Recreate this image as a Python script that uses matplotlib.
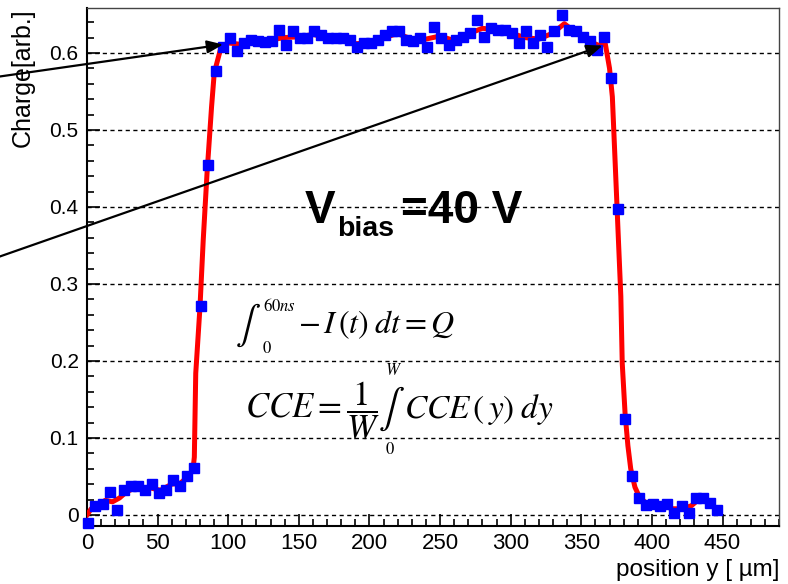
"""Charge collection scan across the sensor at V_bias = 40 V."""

import matplotlib
matplotlib.use("Agg")
import matplotlib.pyplot as plt
from matplotlib.ticker import MultipleLocator

plt.rcParams["font.family"] = ["Liberation Sans", "DejaVu Sans"]
plt.rcParams["mathtext.fontset"] = "stix"

# scan positions (um) and measured charge (arb.)
position = [
    1, 6, 11, 16, 21, 26, 31, 36, 41, 46, 51, 56, 61, 66, 71, 76, 81, 86,
    91, 96, 101, 106, 111, 116, 121, 126, 131, 136, 141, 146, 151, 156,
    161, 166, 171, 176, 181, 186, 191, 196, 201, 206, 211, 216, 221, 226,
    231, 236, 241, 246, 251, 256, 261, 266, 271, 276, 281, 286, 291, 296,
    301, 306, 311, 316, 321, 326, 331, 336, 341, 346, 351, 356, 361, 366,
    371, 376, 381, 386, 391, 396, 401, 406, 411, 416, 421, 426, 431, 436,
    441, 446,
]
charge = [
    -0.010, 0.011, 0.014, 0.030, 0.0065, 0.032, 0.037, 0.037, 0.033, 0.040,
    0.028, 0.033, 0.046, 0.037, 0.050, 0.0615, 0.271, 0.454, 0.577, 0.608,
    0.619, 0.602, 0.6125, 0.617, 0.615, 0.614, 0.616, 0.630, 0.610, 0.628,
    0.619, 0.620, 0.628, 0.623, 0.619, 0.619, 0.619, 0.617, 0.608, 0.6125,
    0.6125, 0.617, 0.623, 0.628, 0.628, 0.617, 0.616, 0.619, 0.608, 0.634,
    0.619, 0.610, 0.617, 0.621, 0.6255, 0.643, 0.621, 0.632, 0.630, 0.630,
    0.6255, 0.6125, 0.628, 0.6125, 0.623, 0.608, 0.628, 0.649, 0.630, 0.628,
    0.621, 0.615, 0.604, 0.621, 0.567, 0.397, 0.124, 0.050, 0.022, 0.013,
    0.014, 0.012, 0.014, 0.002, 0.011, 0.002, 0.022, 0.022, 0.015, 0.007,
]

# red smoothing curve
fit_pos = [
    0, 3, 8, 13, 18, 23, 28, 35, 45, 52, 60, 66, 71, 75, 76, 77, 80, 82.3,
    85, 88.2, 90.1, 94.4, 100, 110, 120, 130, 140, 150, 160, 170, 180, 190,
    200, 210, 220, 230, 240, 250, 260, 270, 280, 290, 300, 310, 320, 330,
    338, 345, 355, 362, 367, 370, 372, 374, 376, 378, 379, 381, 383, 385,
    388, 391, 396, 405, 415, 422, 428, 433, 440, 446,
]
fit_charge = [
    0.0, 0.008, 0.013, 0.019, 0.017, 0.022, 0.030, 0.036, 0.035, 0.032,
    0.040, 0.041, 0.049, 0.058, 0.075, 0.184, 0.270, 0.357, 0.444, 0.530,
    0.574, 0.604, 0.613, 0.611, 0.615, 0.617, 0.620, 0.621, 0.624, 0.620,
    0.618, 0.612, 0.613, 0.620, 0.625, 0.618, 0.618, 0.622, 0.616, 0.625,
    0.632, 0.630, 0.626, 0.620, 0.618, 0.626, 0.638, 0.628, 0.616, 0.610,
    0.612, 0.580, 0.543, 0.457, 0.370, 0.284, 0.197, 0.132, 0.090, 0.060,
    0.036, 0.024, 0.015, 0.013, 0.008, 0.008, 0.012, 0.020, 0.016, 0.008,
]

W, H = 788, 584
fig = plt.figure(figsize=(W / 100, H / 100), dpi=100)
ax = fig.add_axes([87 / W, 1 - 525.7 / H, 692 / W, 517.4 / H])

ax.plot(fit_pos, fit_charge, color="#ff0000", lw=3.6, zorder=3)
ax.plot(position, charge, ls="none", marker="s", ms=7.6, mfc="#0000ff",
        mec="#0000ff", zorder=4, clip_on=False)

ax.set_xlim(0, 490)
ax.set_ylim(-0.014, 0.658)
ax.xaxis.set_minor_locator(MultipleLocator(10))
ax.yaxis.set_minor_locator(MultipleLocator(0.02))
ax.set_xticks(range(0, 451, 50))
ax.set_xticklabels([str(v) for v in range(0, 451, 50)])
ax.set_yticks([0, 0.1, 0.2, 0.3, 0.4, 0.5, 0.6])
ax.set_yticklabels(["0", "0.1", "0.2", "0.3", "0.4", "0.5", "0.6"])

ax.tick_params(which="both", direction="in", top=False, right=False,
               color="black")
ax.tick_params(axis="y", which="major", length=9.5, width=1.2, pad=6,
               labelsize=15)
ax.tick_params(axis="y", which="minor", length=5, width=1.2)
ax.tick_params(axis="x", which="major", length=9, width=1.2, pad=5,
               labelsize=16)
ax.tick_params(axis="x", which="minor", length=5, width=1.2)

ax.yaxis.grid(True, which="major", color="black", lw=1, ls=(0, (3, 2.5)))
ax.set_axisbelow(True)
for side in ("left", "bottom"):
    ax.spines[side].set_linewidth(1.5)
for side in ("top", "right"):
    ax.spines[side].set_linewidth(1.0)
    ax.spines[side].set_color("#444444")

ax.set_ylabel("Charge[arb.]", fontsize=18, loc="top")
ax.yaxis.set_label_coords(-52 / 692, 1.0)
ax.set_xlabel("position y [ µm]", fontsize=17.5, loc="right")
ax.xaxis.set_label_coords(1.0, -33 / 517.4)

arrow = dict(arrowstyle="-|>,head_length=0.4,head_width=0.16",
             color="black", lw=1.6, mutation_scale=24, shrinkA=0, shrinkB=0)
ax.annotate("", xy=(96.4, 0.611), xytext=(-90, 0.562), arrowprops=arrow,
            annotation_clip=False, zorder=6)
ax.annotate("", xy=(365.1, 0.6095), xytext=(-90, 0.3175), arrowprops=arrow,
            annotation_clip=False, zorder=6)


def fig_text(px, py, s, ha="left", va="baseline", **kw):
    fig.text(px / W, 1 - py / H, s, ha=ha, va=va, **kw)


# V_bias label
fig_text(305, 223, "V", fontsize=33, fontweight="bold")
fig_text(337, 236, "bias", fontsize=20.5, fontweight="bold")
fig_text(401, 223, "=40 V", fontsize=33, fontweight="bold")

# charge integral
fig_text(248, 325, r"$\int$", fontsize=27, ha="center", va="center")
fig_text(263, 311, r"$60ns$", fontsize=12)
fig_text(262, 353, r"$0$", fontsize=12)
fig_text(298, 333, r"$-\,I\,(t)\;dt = Q$", fontsize=23)

# CCE definition
fig_text(245, 418, r"$CCE=\dfrac{1}{W}$", fontsize=25)
fig_text(391, 409, r"$\int$", fontsize=28, ha="center", va="center")
fig_text(394, 370, r"$W$", fontsize=12, ha="center", va="center")
fig_text(390, 449, r"$0$", fontsize=12, ha="center", va="center")
fig_text(404, 418, r"$CCE\,(\,y)\;dy$", fontsize=24)

fig.savefig("out.png", dpi=100)
